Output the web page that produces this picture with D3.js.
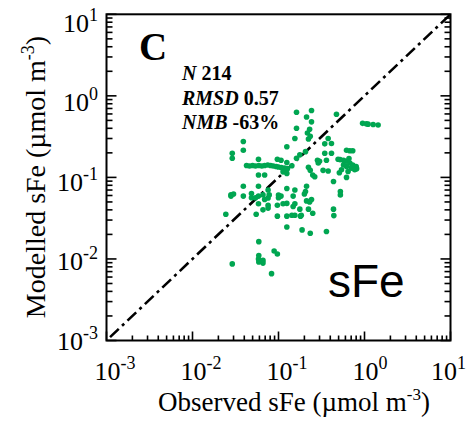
<!DOCTYPE html>
<html><head><meta charset="utf-8">
<script src="https://cdn.jsdelivr.net/npm/d3@7"></script>
<style>body{margin:0;background:#fff}svg{display:block}</style>
</head><body>
<svg id="c" width="466" height="421"></svg>
<script>
// Observed (x) and modelled (y) sFe, µmol m-3
const obsX = [0.162,0.242,0.212,0.242,0.162,0.23,0.217,0.234,0.472,0.95,1.05,1.10,1.26,1.44,
  0.155,0.223,0.378,0.413,0.345,0.039,0.039,0.029,0.029,0.125,0.206,0.177,0.162,0.345,0.413,
  0.618,0.675,0.73,0.284,0.361,
  0.493,0.52,0.57,0.618,0.675,0.73,0.80,0.70,0.618,0.57,0.54,0.644,0.77,0.81,0.51,0.618,0.72,0.66,
  0.30,0.29,0.33,0.378,0.223,0.234,0.25,0.264,0.436,0.524,0.524,
  0.0425,0.046,0.050,0.054,0.059,0.064,0.069,0.075,0.081,0.087,0.094,0.10,0.108,0.118,0.127,
  0.0585,0.097,0.107,0.125,0.143,0.0585,0.069,0.125,0.113,
  0.039,0.028,0.028,0.030,0.039,0.0485,0.0485,0.0585,0.0585,0.054,0.066,0.066,0.069,0.0757,
  0.0757,0.078,0.0585,0.10,0.10,0.107,0.125,0.155,0.148,0.212,0.206,0.20,0.212,0.242,0.23,
  0.0757,0.0757,0.097,0.113,0.125,0.148,0.155,0.177,0.223,0.184,0.097,0.125,0.143,0.155,0.18,
  0.25,0.055,0.0244,0.436,0.44,0.125,0.188,0.234,0.361,
  0.059,0.059,0.0585,0.059,0.066,0.066,0.089,0.097,0.029,0.083];
const modY = [0.63,0.66,0.55,0.48,0.40,0.39,0.35,0.32,0.595,0.46,0.455,0.45,0.445,0.44,
  0.30,0.296,0.30,0.26,0.258,0.275,0.215,0.198,0.172,0.238,0.207,0.189,0.172,0.198,0.198,
  0.215,0.212,0.212,0.162,0.162,
  0.167,0.165,0.162,0.158,0.15,0.142,0.136,0.13,0.136,0.142,0.124,0.118,0.124,0.128,0.114,0.10,0.14,0.17,
  0.158,0.15,0.122,0.12,0.133,0.122,0.107,0.102,0.089,0.067,0.061,
  0.14,0.138,0.14,0.138,0.14,0.138,0.14,0.142,0.14,0.138,0.136,0.134,0.132,0.13,0.128,
  0.167,0.167,0.162,0.152,0.139,0.107,0.107,0.112,0.117,
  0.078,0.061,0.059,0.0625,0.059,0.0635,0.0564,0.078,0.059,0.0564,0.061,0.040,0.0535,0.056,
  0.070,0.061,0.0475,0.0608,0.0564,0.059,0.073,0.070,0.059,0.078,0.067,0.0625,0.0515,0.0535,0.050,
  0.0456,0.042,0.0456,0.0475,0.048,0.0439,0.0475,0.0408,0.0408,0.0344,0.0335,0.0335,0.0344,0.0344,0.0335,
  0.0364,0.0354,0.0354,0.0408,0.034,0.0247,0.0227,0.0207,0.0217,
  0.0163,0.011,0.0100,0.0092,0.0096,0.0089,0.0125,0.0115,0.0087,0.0066];
const decades = [-3,-2,-1,0,1];
const statNames = ["N","RMSD","NMB"];
const statValues = ["214","0.57","-63%"];
const panelLetter = "C";
const speciesLabel = "sFe";

const svg = d3.select("#c");
const L=106.5, R=450.5, T=14.3, B=340.5;
const x = d3.scaleLog().domain([1e-3,1e1]).range([L,R]);
const y = d3.scaleLog().domain([1e-3,1e1]).range([B,T]);
const serif = "'Liberation Serif','Times New Roman',serif";

// ticks
const minor=[], major=[];
for (let e=-3;e<1;e++){ for(let m=1;m<10;m++){ const v=m*Math.pow(10,e); (m===1?major:minor).push(v);} }
major.push(10);
const g = svg.append("g").attr("stroke","#000").attr("stroke-width",1.6);
[[major,10],[minor,6]].forEach(([vals,len])=>{
  vals.forEach(v=>{
    const yy=y(v);
    g.append("line").attr("x1",L).attr("x2",L+len).attr("y1",yy).attr("y2",yy);
    g.append("line").attr("x1",R).attr("x2",R-len).attr("y1",yy).attr("y2",yy);
  });
});
[[major,9],[minor,5]].forEach(([vals,len])=>{
  vals.forEach(v=>{
    const xx=x(v);
    g.append("line").attr("x1",xx).attr("x2",xx).attr("y1",B).attr("y2",B-len);
  });
});

// diagonal 1:1
svg.append("line").attr("x1",x(1.1e-3)).attr("y1",y(1.1e-3)).attr("x2",x(10)).attr("y2",y(10))
  .attr("stroke","#000").attr("stroke-width",2.6).attr("stroke-dasharray","12,4.5,3,4.5");

// points
svg.append("g").selectAll("circle").data(obsX.map((v,i)=>[v,modY[i]])).join("circle")
  .attr("cx",d=>x(d[0])).attr("cy",d=>y(d[1])).attr("r",2.8).attr("fill","#00a651");

// frame
svg.append("rect").attr("x",L).attr("y",T).attr("width",R-L).attr("height",B-T)
  .attr("fill","none").attr("stroke","#000").attr("stroke-width",2);

// tick labels
function pow10(sel, e){
  sel.append("tspan").text("10");
  sel.append("tspan").attr("font-size",18).attr("dy",-11).text(String(e));
}
decades.forEach(e=>{
  const xx = Math.min(x(Math.pow(10,e))-12, 431);
  const t = svg.append("text").attr("x",xx).attr("y",380)
    .attr("font-family",serif).attr("font-size",26);
  pow10(t,e);
  const yy = 350 - (B - y(Math.pow(10,e)))*0.975;
  const t2 = svg.append("text").attr("x",98).attr("y",yy).attr("text-anchor","end")
    .attr("font-family",serif).attr("font-size",26);
  pow10(t2,e);
});

// axis titles
const xt = svg.append("text").attr("x",294).attr("y",411).attr("text-anchor","middle")
  .attr("font-family",serif).attr("font-size",27);
xt.append("tspan").text("Observed sFe (µmol m");
xt.append("tspan").attr("font-size",17).attr("dy",-11).text("-3");
xt.append("tspan").attr("dy",11).text(")");

const yt = svg.append("text").attr("transform","translate(45,177) rotate(-90)").attr("text-anchor","middle")
  .attr("font-family",serif).attr("font-size",28);
yt.append("tspan").text("Modelled sFe (µmol m");
yt.append("tspan").attr("font-size",18).attr("dy",-11).text("-3");
yt.append("tspan").attr("dy",11).text(")");

// panel letter
svg.append("text").attr("x",139).attr("y",60).attr("font-family",serif).attr("font-weight","bold")
  .attr("font-size",39).text(panelLetter);

// stats
statNames.forEach((n,i)=>{
  const t = svg.append("text").attr("x",182).attr("y",80+i*24.7).attr("font-family",serif)
    .attr("font-weight","bold").attr("font-size",20);
  t.append("tspan").attr("font-style","italic").text(n);
  t.append("tspan").text(" "+statValues[i]);
});

// species label
svg.append("text").attr("x",328).attr("y",297).attr("font-family","'Liberation Sans',Arial,sans-serif")
  .attr("font-size",46).text(speciesLabel);
</script>
</body></html>
